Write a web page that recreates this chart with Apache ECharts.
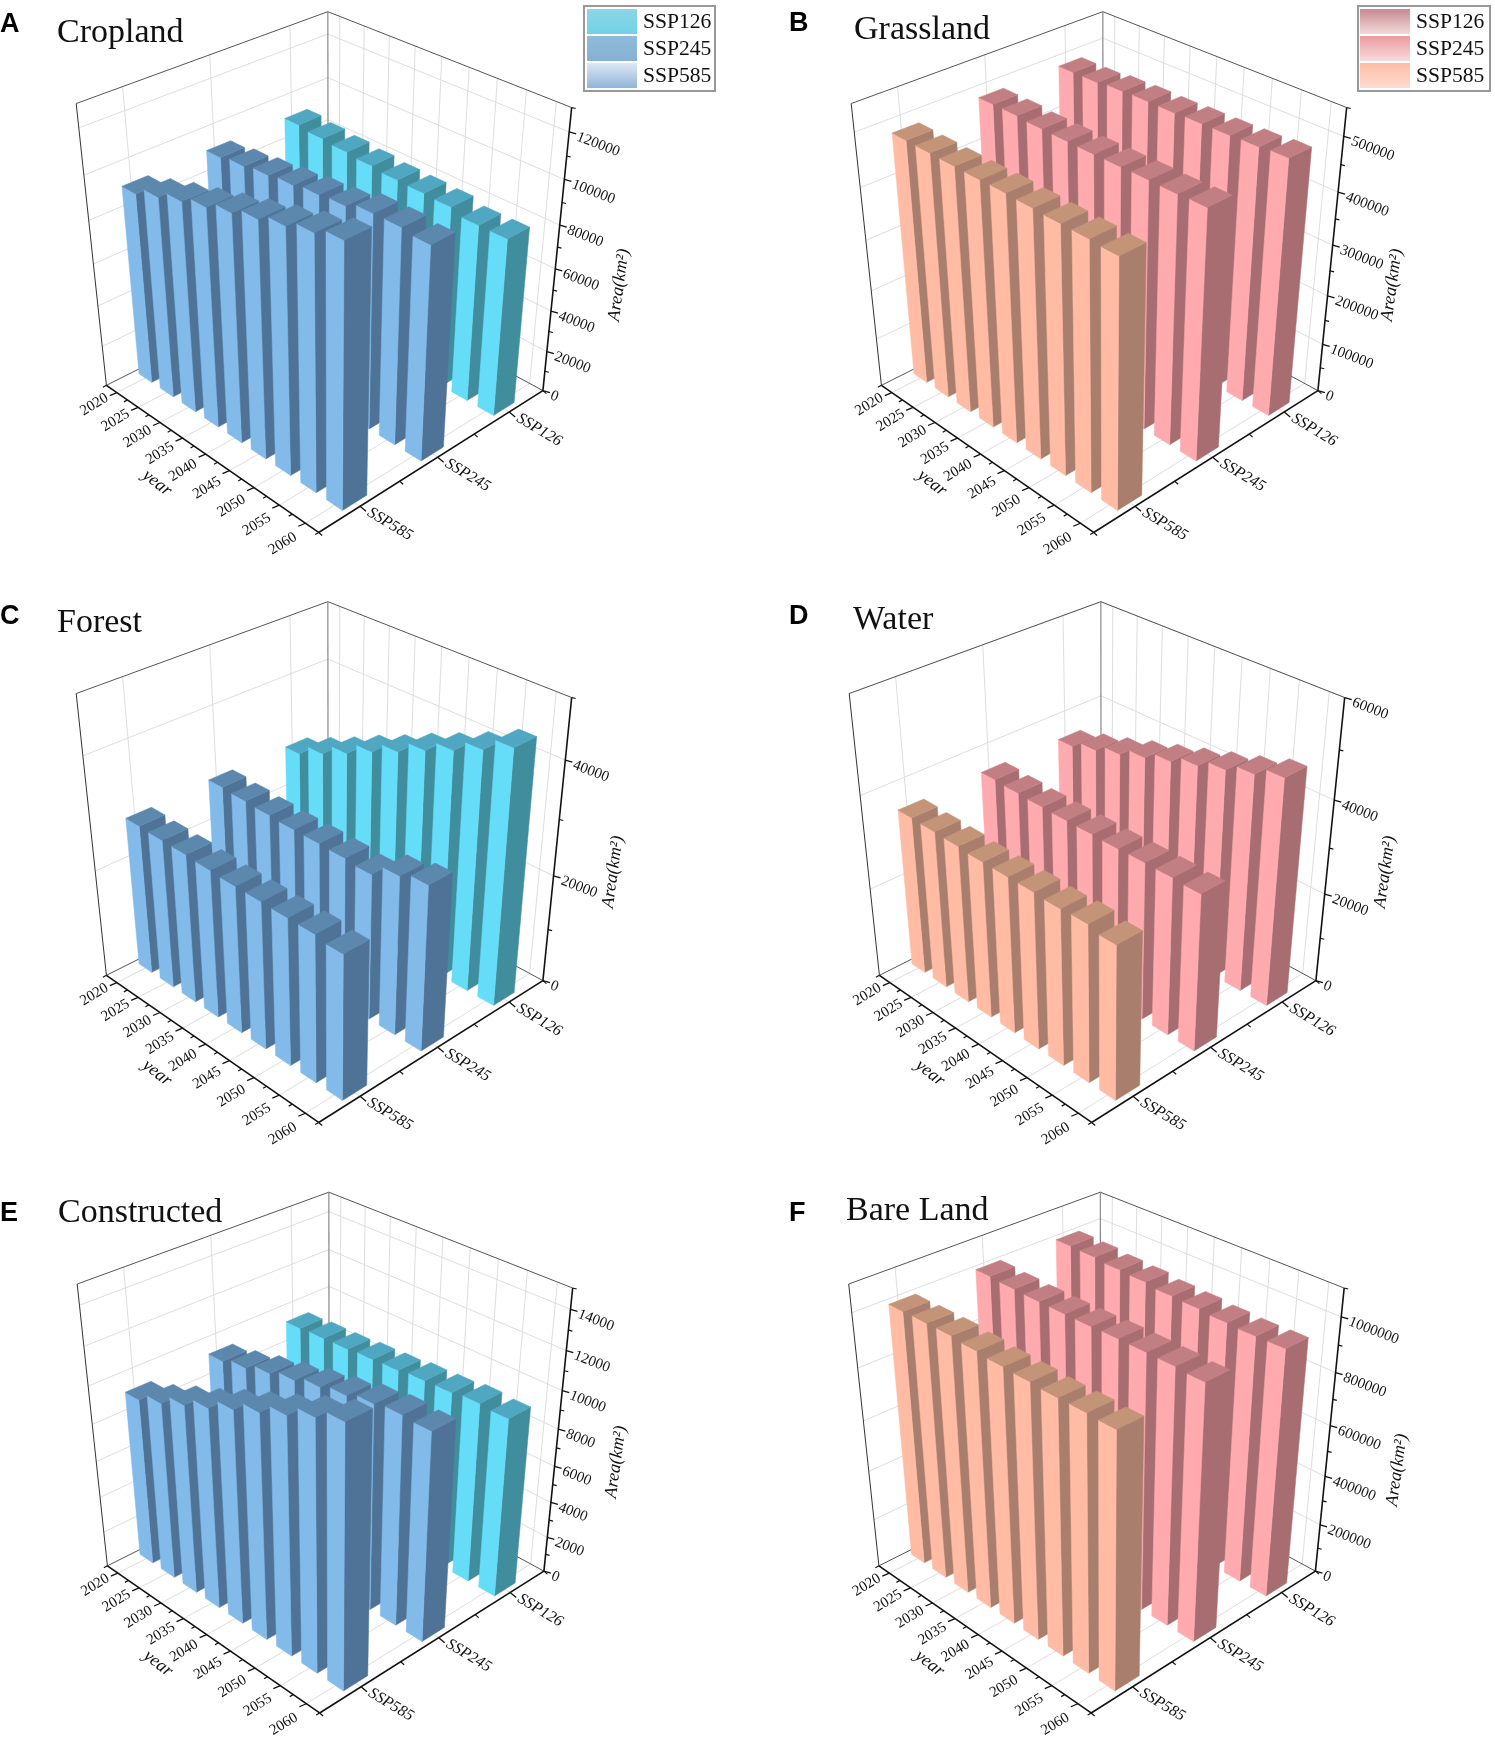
<!DOCTYPE html>
<html>
<head>
<meta charset="utf-8">
<style>html,body{margin:0;padding:0;background:#fff}#main{width:1495px;height:1737px}</style>
<script src="https://cdn.jsdelivr.net/npm/echarts@6/dist/echarts.min.js"></script>
</head>
<body>
<div id="main"></div>
<script>
const years = ['2020','2025','2030','2035','2040','2045','2050','2055','2060'];
const scenarios = ['SSP585','SSP245','SSP126'];

const cropland126 = [91000,89800,88900,87900,86900,86600,86100,83900,83900];
const cropland245 = [91000,92500,93900,95100,96500,97400,100100,100200,99000];
const cropland585 = [90600,94800,98700,102000,105400,108700,111900,115200,118300];

const grassland126 = [485800,486600,490400,492200,492100,493900,494700,496500,499400];
const grassland245 = [484600,485000,482400,481800,481300,481600,482100,481500,482900];
const grassland585 = [481000,480600,480200,479800,480400,479000,477500,477100,474700];

const forest126 = [27950,30030,32150,34480,36550,38830,40900,43080,45450];
const forest245 = [28000,27740,27480,27210,27150,26990,26630,28860,29900];
const forest585 = [27550,27410,27330,27090,26850,26810,26680,26640,26100];

const water126 = [35200,36790,38380,40170,41860,43550,45240,46930,48820];
const water245 = [35220,34960,34710,34550,34500,34340,34390,34330,34080];
const water585 = [34800,34660,34510,34170,34120,34080,33830,33990,33140];

const constructed126 = [9255,9327,9360,9452,9505,9627,9670,9792,9715];
const constructed245 = [9280,9560,9922,10233,10555,10795,11067,11218,11140];
const constructed585 = [9140,9640,10230,10770,11385,11945,12510,13110,13610];

const bareland126 = [997500,995200,987800,984500,975100,971800,965400,962100,963700];
const bareland245 = [1000200,996000,992900,991600,991500,993300,992200,990900,985800];
const bareland585 = [995000,997200,998400,991500,984700,980900,976100,976200,972400];

const croplandTicks = [0,20000,40000,60000,80000,100000,120000];
const grasslandTicks = [0,100000,200000,300000,400000,500000];
const forestTicks = [0,20000,40000];
const waterTicks = [0,20000,40000,60000];
const constructedTicks = [0,2000,4000,6000,8000,10000,12000,14000];
const barelandTicks = [0,200000,400000,600000,800000,1000000];

const blueFaces = {
  cyan: {light:'#66DDF8', dark:'#408D9E', top:'#4FA7C1'},
  blue: {light:'#82BAEA', dark:'#4F7396', top:'#5C88AE'}
};
const redFaces = {
  pink: {light:'#FFAAAE', dark:'#A86D70', top:'#C27F83'},
  peach:{light:'#FFBBA3', dark:'#A97E6C', top:'#C49479'}
};

const panels = [
 {letter:'A', name:'Cropland', ox:0, oy:0, max:130000, minor:10000, ticks:croplandTicks,
  s126:cropland126, s245:cropland245, s585:cropland585,
  faces:[blueFaces.blue, blueFaces.blue, blueFaces.cyan],
  title:[57,33], let:[0,25], areaX:619, areaY:285},
 {letter:'B', name:'Grassland', ox:775, oy:0, max:550000, minor:50000, ticks:grasslandTicks,
  s126:grassland126, s245:grassland245, s585:grassland585,
  faces:[redFaces.peach, redFaces.pink, redFaces.pink],
  title:[854,30], let:[789,24], areaX:1392, areaY:285},
 {letter:'C', name:'Forest', ox:0, oy:590, max:50000, minor:10000, ticks:forestTicks,
  s126:forest126, s245:forest245, s585:forest585,
  faces:[blueFaces.blue, blueFaces.blue, blueFaces.cyan],
  title:[57,623], let:[0,617], areaX:613, areaY:872},
 {letter:'D', name:'Water', ox:773, oy:590, max:60000, minor:10000, ticks:waterTicks,
  s126:water126, s245:water245, s585:water585,
  faces:[redFaces.peach, redFaces.pink, redFaces.pink],
  title:[853,620], let:[789,617], areaX:1385, areaY:872},
 {letter:'E', name:'Constructed', ox:1, oy:1180.5, max:15000, minor:1000, ticks:constructedTicks,
  s126:constructed126, s245:constructed245, s585:constructed585,
  faces:[blueFaces.blue, blueFaces.blue, blueFaces.cyan],
  title:[58,1213], let:[0,1214], areaX:616, areaY:1462},
 {letter:'F', name:'Bare Land', ox:772.5, oy:1180.5, max:1100000, minor:100000, ticks:barelandTicks,
  s126:bareland126, s245:bareland245, s585:bareland585,
  faces:[redFaces.peach, redFaces.pink, redFaces.pink],
  title:[846,1211], let:[789,1214], areaX:1397, areaY:1470}
];

// Camera calibration: world box corner (year 0..1, scenario 0..1, height 0..1) -> page position of panel A
const cameraCorners = [
 [0,0,0,105,381.7],[1,0,0,318.5,534],[1,1,0,543.5,387.5],[0,1,0,329,279],
 [0,0,1,77.3,102.3],[0,1,1,327.3,11],[1,1,1,570.5,105.7],[1,0,1,317.5,233]
];
function fitCamera(pts){
  const rows=[],rhs=[];
  pts.forEach(([u,v,z,x,y])=>{
    rows.push([u,v,z,1,0,0,0,0,-x*u,-x*v,-x*z]);rhs.push(x);
    rows.push([0,0,0,0,u,v,z,1,-y*u,-y*v,-y*z]);rhs.push(y);
  });
  const n=11,A=[];
  for(let i=0;i<n;i++){A[i]=[];for(let j=0;j<=n;j++){let s=0;
    for(let k=0;k<rows.length;k++)s+=rows[k][i]*(j<n?rows[k][j]:rhs[k]);
    A[i][j]=s;}}
  for(let i=0;i<n;i++){let p=i;for(let r=i+1;r<n;r++)if(Math.abs(A[r][i])>Math.abs(A[p][i]))p=r;
    [A[i],A[p]]=[A[p],A[i]];
    for(let r=0;r<n;r++){if(r===i)continue;const f=A[r][i]/A[i][i];for(let j=i;j<=n;j++)A[r][j]-=f*A[i][j];}}
  return A.map((r,i)=>r[n]/r[i]);
}
const cam = fitCamera(cameraCorners);
function project(panel,u,v,z){
  const w=cam[8]*u+cam[9]*v+cam[10]*z+1;
  return [(cam[0]*u+cam[1]*v+cam[2]*z+cam[3])/w+panel.ox,(cam[4]*u+cam[5]*v+cam[6]*z+cam[7])/w+panel.oy];
}

const YEAR_BAR=0.60, SSP_BAR=0.30;
const serif="'Liberation Serif','Times New Roman',serif";

function norm(api,params,yi,val){
  const r=params.coordSys, c=api.coord([yi,val]);
  return [(c[0]-r.x)/r.width,(r.y+r.height-c[1])/r.height];
}

function barRenderer(panel){
  return function(params,api){
    const yi=api.value(0),val=api.value(1),si=api.value(2);
    const n=norm(api,params,yi,val),uc=n[0],z=n[1];
    const du=api.size([1,0])[0]/params.coordSys.width*YEAR_BAR/2;
    const vc=(si+0.5)/scenarios.length,dv=SSP_BAR/scenarios.length/2;
    const u0=uc-du,u1=uc+du,v0=vc-dv,v1=vc+dv;
    const P=(a,b,c)=>project(panel,a,b,c);
    const f=panel.faces[si];
    const face=(pts,col)=>({type:'polygon',shape:{points:pts},style:{fill:col,stroke:col,lineWidth:0.5}});
    return {type:'group',children:[
      face([P(u1,v0,0),P(u1,v1,0),P(u1,v1,z),P(u1,v0,z)],f.dark),
      face([P(u0,v0,0),P(u1,v0,0),P(u1,v0,z),P(u0,v0,z)],f.light),
      face([P(u0,v0,z),P(u1,v0,z),P(u1,v1,z),P(u0,v1,z)],f.top)
    ]};
  };
}

function frameRenderer(panel){
  return function(params,api){
    const P=(a,b,c)=>project(panel,a,b,c);
    const kids=[];
    const line=(a,b,col,w)=>kids.push({type:'line',shape:{x1:a[0],y1:a[1],x2:b[0],y2:b[1]},style:{stroke:col,lineWidth:w}});
    const add=(p,d)=>[p[0]+d[0],p[1]+d[1]];
    const text=(s,x,y,rotDeg,size,extra)=>kids.push({type:'text',x:x,y:y,rotation:rotDeg*Math.PI/180,
      style:Object.assign({text:s,font:size+'px '+serif,fill:'#111',align:'center',verticalAlign:'middle'},extra||{})});
    const GRID='#dedede';
    const nY=years.length,nS=scenarios.length;
    const zOf=v=>norm(api,params,0,v)[1];
    years.forEach((y,i)=>{const u=norm(api,params,i,0)[0];
      line(P(u,0,0),P(u,1,0),GRID,1);line(P(u,1,0),P(u,1,1),GRID,1);});
    scenarios.forEach((s,i)=>{const v=(i+0.5)/nS;
      line(P(0,v,0),P(1,v,0),GRID,1);line(P(0,v,0),P(0,v,1),GRID,1);});
    panel.ticks.forEach(t=>{if(!t)return;const z=zOf(t);
      line(P(0,0,z),P(0,1,z),GRID,1);line(P(0,1,z),P(1,1,z),GRID,1);});
    line(P(0,0,1),P(0,1,1),'#555',1);line(P(0,1,1),P(1,1,1),'#555',1);
    line(P(0,0,0),P(0,0,1),'#333',1);line(P(0,1,0),P(0,1,1),'#888',1.2);
    line(P(0,0,0),P(0,1,0),'#555',1);line(P(0,1,0),P(1,1,0),'#555',1);
    line(P(0,0,0),P(1,0,0),'#111',1.6);line(P(1,0,0),P(1,1,0),'#111',1.6);line(P(1,1,0),P(1,1,1),'#111',1.6);
    for(let i=0;i<=nY;i++){const p=P(i/nY,0,0);line(p,add(p,[-3.5,2]),'#111',1.2);}
    years.forEach((y,i)=>{const u=(i+0.5)/nY,p=P(u,0,0);line(p,add(p,[-7,3]),'#111',1.3);
      text(y,p[0]-22.5,p[1]+11.5+9.5*u,31,15);});
    for(let i=0;i<=nS;i++){const p=P(1,i/nS,0);line(p,add(p,[3.5,3]),'#111',1.2);}
    scenarios.forEach((s,i)=>{const p=P(1,(i+0.5)/nS,0);line(p,add(p,[6,5]),'#111',1.3);
      text(s,p[0]+30,p[1]+18,-31,16,{font:'italic 16px '+serif});});
    for(let v=panel.minor;v<=panel.max;v+=panel.minor){
      if(panel.ticks.indexOf(v)<0){const p=P(1,1,zOf(v));line(p,add(p,[4,1]),'#111',1.2);}
    }
    panel.ticks.forEach(t=>{const p=P(1,1,zOf(t));line(p,add(p,[7,2]),'#111',1.3);
      text(String(t),p[0]+8,p[1]+4.5,-21,15,{align:'left'});});
    text('year',panel.ox+157,panel.oy+483,-38,18,{font:'italic 18px '+serif});
    text('Area(km\u00B2)',panel.areaX,panel.areaY,82,18,{font:'italic 18px '+serif});
    text(panel.name,panel.title[0],panel.title[1],0,34,{align:'left'});
    kids.push({type:'text',x:panel.let[0],y:panel.let[1],style:{text:panel.letter,
      font:"bold 27px 'Liberation Sans',Arial,sans-serif",fill:'#000',align:'left',verticalAlign:'middle'}});
    return {type:'group',children:kids};
  };
}

const grid=[],xAxis=[],yAxis=[],series=[];
panels.forEach((p,k)=>{
  grid.push({left:p.ox+80,top:p.oy+12,width:500,height:525,containLabel:false,show:false});
  xAxis.push({type:'category',gridIndex:k,data:years,show:false,boundaryGap:true});
  yAxis.push({type:'value',gridIndex:k,min:0,max:p.max,show:false});
  series.push({type:'custom',name:p.name+' axes',xAxisIndex:k,yAxisIndex:k,clip:false,silent:true,
    renderItem:frameRenderer(p),data:[[0,0]],encode:{x:0,y:1},z:1});
  const rows=[];
  [p.s126,p.s245,p.s585].forEach((vals,j)=>{
    vals.forEach((val,i)=>rows.push([i,val,scenarios.length-1-j]));
  });
  series.push({type:'custom',name:p.name,xAxisIndex:k,yAxisIndex:k,clip:false,silent:true,
    renderItem:barRenderer(p),data:rows,encode:{x:0,y:1},z:2});
});

const legendSwatches=[
 {x:584,w:131,sw:587,tx:643,cols:[['#8DD6E6','#70D2E6'],['#8DBCD8','#86B0D4'],['#DDE8F3','#8FB5D8']]},
 {x:1358,w:132,sw:1360,tx:1416,cols:[['#C78A90','#F0DADA'],['#EE9A9E','#F6DCDC'],['#FDBEA5','#FDDCD2']]}
];
const legendNames=['SSP126','SSP245','SSP585'];
const legendY=[9,36,63];
const graphic=[];
legendSwatches.forEach(l=>{
  graphic.push({type:'rect',shape:{x:l.x,y:6,width:l.w,height:85},style:{fill:'#fff',stroke:'#999',lineWidth:2},z:10});
  legendNames.forEach((n,i)=>{
    graphic.push({type:'rect',shape:{x:l.sw,y:legendY[i],width:50,height:25},
      style:{fill:{type:'linear',x:0,y:0,x2:0,y2:1,colorStops:[{offset:0,color:l.cols[i][0]},{offset:1,color:l.cols[i][1]}]}},z:11});
    graphic.push({type:'text',x:l.tx,y:legendY[i]+13.5,
      style:{text:n,font:'21.6px '+serif,fill:'#111',textAlign:'left',textVerticalAlign:'middle'},z:11});
  });
});

const chart=echarts.init(document.getElementById('main'));
chart.setOption({animation:false,backgroundColor:'#fff',tooltip:{show:false},grid,xAxis,yAxis,series,graphic});
</script>
</body>
</html>
